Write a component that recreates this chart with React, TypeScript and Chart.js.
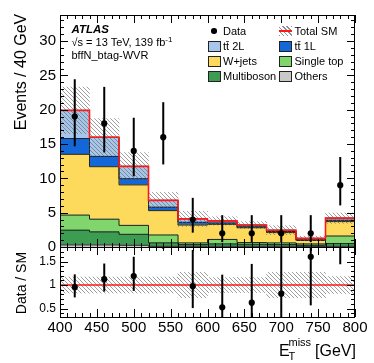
import React, { useEffect, useRef } from 'react';
import { Chart, registerables } from 'chart.js';

Chart.register(...registerables);

// ---------- data ----------
const binEdges = [400, 440, 480, 520, 560, 600, 640, 680, 720, 760, 800];
const binCenters = [420, 460, 500, 540, 580, 620, 660, 700, 740, 780];

const others = [0.3, 0.3, 0.25, 0.1, 0.1, 0.1, 0.1, 0.1, 0.05, 0.1];
const multiboson = [2.15, 1.9, 1.6, 0.5, 0.25, 0.35, 0.3, 0.25, 0.2, 0.4];
const singleTop = [2.2, 1.85, 1.3, 1.15, 0.25, 0.65, 0.25, 0.25, 0.2, 1.1];
const wJets = [8.85, 7.65, 5.9, 3.55, 2.6, 2.2, 2.15, 1.5, 0.5, 2.1];
const ttbar1L = [2.3, 1.5, 0.9, 0.5, 0.4, 0.2, 0.15, 0.15, 0.1, 0.2];
const ttbar2L = [4.1, 2.8, 1.8, 1.0, 0.5, 0.3, 0.25, 0.2, 0.2, 0.3];

const dataCounts = [19, 18, 14, 16, 4, 2, 2, 2, 2, 9];
const dataErrUp = [5.44, 5.33, 4.83, 5.1, 3.16, 2.64, 2.64, 2.64, 2.64, 4.11];
const dataErrDown = [4.33, 4.22, 3.7, 3.97, 1.91, 1.29, 1.29, 1.29, 1.29, 2.94];

const relUncertainty = [0.17, 0.17, 0.17, 0.17, 0.27, 0.16, 0.16, 0.27, 0.27, 0.18];

const xTickValues = [400, 450, 500, 550, 600, 650, 700, 750, 800];
const yTickValues = [0, 5, 10, 15, 20, 25, 30];
const ratioTickValues = [0.5, 1, 1.5];

const Y_MIN = 0;
const Y_MAX = 33.8;
const R_MIN = 0.32;
const R_MAX = 1.81;

// ---------- styles ----------
const FONT = '"Liberation Sans", Arial, Helvetica, sans-serif';
const EDGE = '#222222';
const RED = '#ff1a1a';

const components = [
  { label: 'Others', values: others, color: '#c9c9c9' },
  { label: 'Multiboson', values: multiboson, color: '#3c9c52' },
  { label: 'Single top', values: singleTop, color: '#80d66c' },
  { label: 'W+jets', values: wJets, color: '#fdd95c' },
  { label: 'tt\u0304 1L', values: ttbar1L, color: '#1467d9' },
  { label: 'tt\u0304 2L', values: ttbar2L, color: '#a6c6ea' },
];

function makeHatch(): CanvasPattern | string {
  const c = document.createElement('canvas');
  c.width = 4;
  c.height = 4;
  const g = c.getContext('2d');
  if (!g) return 'rgba(120,120,120,0.4)';
  g.strokeStyle = 'rgba(100,100,100,0.7)';
  g.lineWidth = 0.9;
  g.beginPath();
  g.moveTo(0, 0);
  g.lineTo(4, 4);
  g.moveTo(-1, 3);
  g.lineTo(1, 5);
  g.moveTo(3, -1);
  g.lineTo(5, 1);
  g.stroke();
  return g.createPattern(c, 'repeat') || 'rgba(120,120,120,0.4)';
}

const frameTicksPlugin = {
  id: 'frameTicks',
  afterDraw(chart: any) {
    const { ctx } = chart;
    const x = chart.scales.x;
    const y = chart.scales.y;
    const yr = chart.scales.yr;
    const L = x.left;
    const R = x.right;
    ctx.save();
    ctx.strokeStyle = '#000';
    ctx.lineWidth = 1;
    const seg = (x1: number, y1: number, x2: number, y2: number) => {
      ctx.beginPath();
      ctx.moveTo(x1, y1);
      ctx.lineTo(x2, y2);
      ctx.stroke();
    };
    const panels = [
      { s: y, minorStep: 1, majorEvery: 5, lo: 0, hi: 33 },
      { s: yr, minorStep: 0.1, majorEvery: 5, lo: 4, hi: 18 },
    ];
    for (const p of panels) {
      const T = p.s.top;
      const B = p.s.bottom;
      ctx.strokeRect(Math.round(L) + 0.5, Math.round(T) + 0.5, Math.round(R - L) - 1, Math.round(B - T));
      for (let k = p.lo; k <= p.hi; k++) {
        const v = k * p.minorStep;
        const py = Math.round(p.s.getPixelForValue(v)) + 0.5;
        if (py < T || py > B) continue;
        const len = k % p.majorEvery === 0 ? 8 : 4;
        seg(L, py, L + len, py);
        seg(R, py, R - len, py);
      }
      for (let v = 400; v <= 800; v += 10) {
        const px = Math.round(x.getPixelForValue(v)) + 0.5;
        const len = v % 50 === 0 ? 8 : 4;
        seg(px, B, px, B - len);
        seg(px, T, px, T + len);
      }
    }
    ctx.restore();
  },
};

function Txt(props: { x: number; base: number; size: number; children: any; style?: any }) {
  const { x, base, size, children, style } = props;
  return (
    <div
      style={{
        position: 'absolute',
        left: x,
        top: base - 0.8465 * size,
        fontSize: size,
        lineHeight: `${size}px`,
        whiteSpace: 'nowrap',
        ...style,
      }}
    >
      {children}
    </div>
  );
}

function LegendBox(props: { x: number; base: number; color?: string; total?: boolean; dot?: boolean }) {
  const { x, base, color, total, dot } = props;
  const top = base - 9;
  if (dot) {
    return (
      <div
        style={{
          position: 'absolute',
          left: x + 6 - 2.8,
          top: base - 4 - 2.8,
          width: 5.6,
          height: 5.6,
          borderRadius: '50%',
          background: '#000',
        }}
      />
    );
  }
  if (total) {
    return (
      <div style={{ position: 'absolute', left: x, top, width: 13, height: 10 }}>
        <div
          style={{
            position: 'absolute',
            inset: 0,
            background: 'repeating-linear-gradient(45deg, rgba(105,105,105,0.75) 0 1px, transparent 1px 3px)',
          }}
        />
        <div style={{ position: 'absolute', left: 0, right: 0, top: 4, height: 2, background: RED }} />
      </div>
    );
  }
  return (
    <div
      style={{
        position: 'absolute',
        left: x,
        top,
        width: 11,
        height: 9,
        background: color,
        border: `1px solid ${EDGE}`,
      }}
    />
  );
}

export default function App() {
  const ref = useRef<HTMLCanvasElement>(null);

  useEffect(() => {
    if (!ref.current) return;
    const hatch = makeHatch();
    const n = binCenters.length;

    // cumulative stack
    const lower: number[][] = [];
    const upper: number[][] = [];
    const run = new Array(n).fill(0);
    for (const c of components) {
      lower.push(run.slice());
      for (let i = 0; i < n; i++) run[i] += c.values[i];
      upper.push(run.slice());
    }
    const totals = run.slice();

    const mcSets = components.map((c, k) => ({
      type: 'bar' as const,
      label: c.label,
      data: binCenters.map((x, i) => ({ x, y: [lower[k][i], upper[k][i]] })),
      backgroundColor: c.color,
      borderWidth: 0,
      grouped: false,
      barPercentage: 1,
      categoryPercentage: 1,
      xAxisID: 'x',
      yAxisID: 'y',
      order: 30 + k,
    }));

    // histogram outlines (step lines on top of each component)
    const outlineSets = components.map((c, k) => ({
      type: 'line' as const,
      label: c.label + ' outline',
      data: binEdges.map((x, i) => ({ x, y: upper[k][Math.min(i, n - 1)] })),
      stepped: 'before',
      borderColor: EDGE,
      borderWidth: 1,
      pointRadius: 0,
      fill: false,
      xAxisID: 'x',
      yAxisID: 'y',
      order: 20 + k,
    }));

    const ratio = dataCounts.map((d, i) => d / totals[i]);
    const ratioUp = dataErrUp.map((e, i) => e / totals[i]);
    const ratioDown = dataErrDown.map((e, i) => e / totals[i]);

    const ratioPoints: any[] = [];
    const ratioBars: any[] = [];
    const arrowHeads: any[] = [];
    const arrowShafts: any[] = [];
    binCenters.forEach((x, i) => {
      const lo = ratio[i] - ratioDown[i];
      if (lo > R_MAX) {
        arrowHeads.push({ x, y: R_MAX - 0.11 });
        arrowShafts.push({ x, y: [R_MAX - 0.31, R_MAX - 0.1] });
        return;
      }
      if (ratio[i] <= R_MAX) ratioPoints.push({ x, y: ratio[i] });
      ratioBars.push({ x, y: [Math.max(lo, R_MIN), Math.min(ratio[i] + ratioUp[i], R_MAX)] });
    });

    const errBar = {
      backgroundColor: '#000',
      borderWidth: 0,
      barThickness: 2,
      inflateAmount: 0,
      grouped: false,
    };

    const datasets: any[] = [
      {
        type: 'line',
        label: 'Data',
        data: binCenters.map((x, i) => ({ x, y: dataCounts[i] })),
        showLine: false,
        pointRadius: 3.1,
        pointBackgroundColor: '#000',
        pointBorderWidth: 0,
        xAxisID: 'x',
        yAxisID: 'y',
        order: 0,
      },
      {
        type: 'bar',
        label: 'Data err',
        data: binCenters.map((x, i) => ({ x, y: [dataCounts[i] - dataErrDown[i], dataCounts[i] + dataErrUp[i]] })),
        ...errBar,
        xAxisID: 'x',
        yAxisID: 'y',
        order: 1,
      },
      {
        type: 'line',
        label: 'Ratio',
        data: ratioPoints,
        showLine: false,
        pointRadius: 3.1,
        pointBackgroundColor: '#000',
        pointBorderWidth: 0,
        xAxisID: 'x',
        yAxisID: 'yr',
        order: 2,
      },
      {
        type: 'bar',
        label: 'Ratio err',
        data: ratioBars,
        ...errBar,
        xAxisID: 'x',
        yAxisID: 'yr',
        order: 3,
      },
      {
        type: 'line',
        label: 'Arrow head',
        data: arrowHeads,
        showLine: false,
        pointStyle: 'triangle',
        pointRadius: 3.6,
        pointBackgroundColor: '#1f3cff',
        pointBorderColor: '#1f3cff',
        pointBorderWidth: 0,
        xAxisID: 'x',
        yAxisID: 'yr',
        order: 4,
      },
      {
        type: 'bar',
        label: 'Arrow shaft',
        data: arrowShafts,
        ...errBar,
        backgroundColor: '#1f3cff',
        barThickness: 1.6,
        xAxisID: 'x',
        yAxisID: 'yr',
        order: 5,
      },
      {
        type: 'line',
        label: 'Total SM',
        data: binEdges.map((x, i) => ({ x, y: totals[Math.min(i, n - 1)] })),
        stepped: 'before',
        borderColor: RED,
        borderWidth: 1.6,
        pointRadius: 0,
        fill: false,
        xAxisID: 'x',
        yAxisID: 'y',
        order: 6,
      },
      {
        type: 'line',
        label: 'Unity',
        data: [
          { x: binEdges[0], y: 1 },
          { x: binEdges[binEdges.length - 1], y: 1 },
        ],
        borderColor: RED,
        borderWidth: 1.6,
        pointRadius: 0,
        fill: false,
        xAxisID: 'x',
        yAxisID: 'yr',
        order: 7,
      },
      {
        type: 'bar',
        label: 'Unc',
        data: binCenters.map((x, i) => ({
          x,
          y: [totals[i] * (1 - relUncertainty[i]), totals[i] * (1 + relUncertainty[i])],
        })),
        backgroundColor: hatch,
        borderWidth: 0,
        grouped: false,
        barPercentage: 1,
        categoryPercentage: 1,
        xAxisID: 'x',
        yAxisID: 'y',
        order: 8,
      },
      {
        type: 'bar',
        label: 'Ratio unc',
        data: binCenters.map((x, i) => ({ x, y: [1 - relUncertainty[i], 1 + relUncertainty[i]] })),
        backgroundColor: hatch,
        borderWidth: 0,
        grouped: false,
        barPercentage: 1,
        categoryPercentage: 1,
        xAxisID: 'x',
        yAxisID: 'yr',
        order: 9,
      },
      ...outlineSets,
      ...mcSets,
    ];

    const tickFont = { family: FONT, size: 15 };

    const chart = new Chart(ref.current, {
      type: 'bar',
      data: { datasets },
      options: {
        responsive: false,
        animation: false,
        devicePixelRatio: 1,
        events: [],
        layout: { padding: { left: 0, right: 19, top: 15, bottom: 0 } },
        plugins: {
          legend: { display: false },
          tooltip: { enabled: false },
        },
        scales: {
          x: {
            type: 'linear',
            min: 400,
            max: 800,
            offset: false,
            grid: { display: false, drawTicks: false, offset: false },
            border: { display: false },
            ticks: {
              font: tickFont,
              color: '#000',
              padding: 2,
              maxRotation: 0,
              autoSkip: false,
              callback: (v: any) => String(v),
            },
            afterBuildTicks: (s: any) => {
              s.ticks = xTickValues.map((v) => ({ value: v }));
            },
            afterFit: (s: any) => {
              s.height = 46;
            },
          },
          yr: {
            type: 'linear',
            position: 'left',
            stack: 'panels',
            stackWeight: 70,
            min: R_MIN,
            max: R_MAX,
            offset: false,
            grid: { display: false, drawTicks: false },
            border: { display: false },
            ticks: {
              font: { family: FONT, size: 12 },
              color: '#000',
              padding: 4,
              callback: (v: any) => String(v),
            },
            afterBuildTicks: (s: any) => {
              s.ticks = ratioTickValues.map((v) => ({ value: v }));
            },
            afterFit: (s: any) => {
              s.width = 60;
            },
          },
          y: {
            type: 'linear',
            position: 'left',
            stack: 'panels',
            stackWeight: 232,
            min: Y_MIN,
            max: Y_MAX,
            offset: false,
            grid: { display: false, drawTicks: false },
            border: { display: false },
            ticks: {
              font: tickFont,
              color: '#000',
              padding: 4,
              callback: (v: any) => String(v),
            },
            afterBuildTicks: (s: any) => {
              s.ticks = yTickValues.map((v) => ({ value: v }));
            },
            afterFit: (s: any) => {
              s.width = 60;
            },
          },
        },
      } as any,
      plugins: [frameTicksPlugin],
    });
    return () => chart.destroy();
  }, []);

  return (
    <div
      style={{
        position: 'absolute',
        left: 0,
        top: 0,
        width: 374,
        height: 363,
        background: '#fff',
        fontFamily: FONT,
        color: '#000',
        overflow: 'hidden',
      }}
    >
      <canvas ref={ref} width={374} height={363} style={{ display: 'block', width: 374, height: 363 }} />

      {/* axis titles */}
      <div
        style={{
          position: 'absolute',
          left: 20.5,
          top: 71.5,
          transform: 'translate(-50%, -50%) rotate(-90deg)',
          fontSize: 16,
          lineHeight: '16px',
          whiteSpace: 'nowrap',
        }}
      >
        Events / 40 GeV
      </div>
      <div
        style={{
          position: 'absolute',
          left: 21,
          top: 282.5,
          transform: 'translate(-50%, -50%) rotate(-90deg)',
          fontSize: 14,
          lineHeight: '14px',
          whiteSpace: 'nowrap',
        }}
      >
        Data / SM
      </div>
      <Txt x={279} base={357} size={16}>E</Txt>
      <Txt x={288.5} base={346.7} size={11}>miss</Txt>
      <Txt x={288.5} base={360.5} size={11}>T</Txt>
      <Txt x={315} base={357} size={16}>[GeV]</Txt>

      {/* ATLAS label */}
      <Txt x={71.5} base={33.5} size={11.5} style={{ fontWeight: 'bold', fontStyle: 'italic' }}>
        ATLAS
      </Txt>
      <Txt x={71.5} base={46.5} size={11}>
        <span>√s = 13 TeV, 139 fb</span>
        <sup style={{ fontSize: 8, verticalAlign: 'top', position: 'relative', top: -3 }}>-1</sup>
      </Txt>
      <Txt x={71.5} base={59.5} size={11}>bffN_btag-WVR</Txt>

      {/* legend */}
      <LegendBox x={208} base={35} dot />
      <Txt x={223} base={35} size={11}>Data</Txt>
      <LegendBox x={279} base={35} total />
      <Txt x={294.5} base={35} size={11}>Total SM</Txt>

      <LegendBox x={208} base={50} color={components[5].color} />
      <Txt x={223} base={50} size={11}>{components[5].label}</Txt>
      <LegendBox x={279} base={50} color={components[4].color} />
      <Txt x={294.5} base={50} size={11}>{components[4].label}</Txt>

      <LegendBox x={208} base={65} color={components[3].color} />
      <Txt x={223} base={65} size={11}>{components[3].label}</Txt>
      <LegendBox x={279} base={65} color={components[2].color} />
      <Txt x={294.5} base={65} size={11}>{components[2].label}</Txt>

      <LegendBox x={208} base={80} color={components[1].color} />
      <Txt x={223} base={80} size={11}>{components[1].label}</Txt>
      <LegendBox x={279} base={80} color={components[0].color} />
      <Txt x={294.5} base={80} size={11}>{components[0].label}</Txt>
    </div>
  );
}
